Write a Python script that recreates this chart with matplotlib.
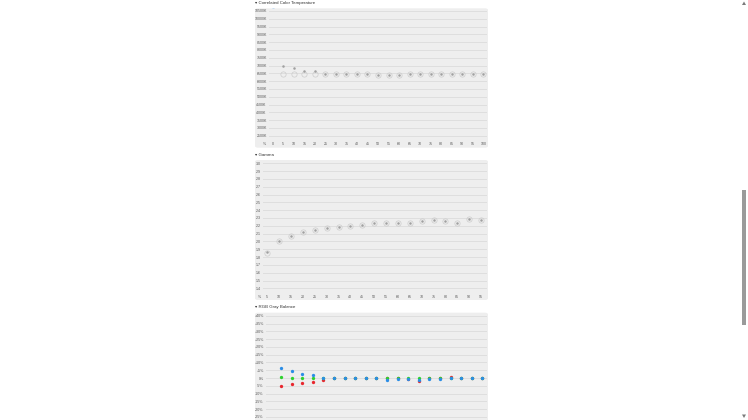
import matplotlib
matplotlib.use("Agg")
import matplotlib.pyplot as plt
from matplotlib.patches import FancyBboxPatch, Rectangle, Polygon

plt.rcParams['font.family'] = ['Liberation Sans', 'DejaVu Sans']

W, H = 748, 420

# ---------------- data ----------------
cct_levels = [5, 10, 15, 20, 25, 30, 35, 40, 45, 50, 55, 60, 65, 70, 75, 80, 85, 90, 95, 100]
cct_measured = [7000, 6825, 6675, 6635, 6485, 6460, 6460, 6460, 6440, 6420, 6400, 6420,
                6460, 6460, 6480, 6460, 6440, 6460, 6460, 6460]
cct_circle = [6460, 6470, 6470, 6470, 6470, 6460, 6460, 6460, 6450, 6420, 6410, 6420,
              6460, 6460, 6470, 6460, 6450, 6460, 6460, 6460]
cct_black_level = [0]
cct_black_value = [10800]
cct_ticks = list(range(10500, 2499, -500))
cct_xticks = list(range(0, 101, 5))

gamma_levels = [5, 10, 15, 20, 25, 30, 35, 40, 45, 50, 55, 60, 65, 70, 75, 80, 85, 90, 95]
gamma_values = [1.87, 2.00, 2.07, 2.12, 2.15, 2.17, 2.19, 2.20, 2.21, 2.24, 2.23, 2.23,
                2.24, 2.26, 2.27, 2.26, 2.24, 2.29, 2.27]
gamma_circle = [1.85, 2.00, 2.07, 2.12, 2.15, 2.17, 2.19, 2.20, 2.21, 2.24, 2.23, 2.23,
                2.24, 2.26, 2.27, 2.26, 2.24, 2.29, 2.27]
gamma_ticks = [3.0, 2.9, 2.8, 2.7, 2.6, 2.5, 2.4, 2.3, 2.2, 2.1, 2.0, 1.9, 1.8, 1.7, 1.6, 1.5, 1.4]

rgb_levels = [5, 10, 15, 20, 25, 30, 35, 40, 45, 50, 55, 60, 65, 70, 75, 80, 85, 90, 95, 100]
rgb_red = [-5.1, -3.9, -3.2, -2.4, -1.1, -0.2, -0.2, 0.0, -0.2, 0.2, 0.0, 0.2,
           -0.4, -1.7, -0.2, -0.2, 0.9, 0.0, 0.2, -0.2]
rgb_green = [0.4, 0.2, 0.2, 0.2, 0.0, -0.1, -0.1, 0.0, -0.1, 0.0, -0.2, 0.0,
             0.0, -0.2, 0.0, 0.0, 0.0, 0.0, 0.0, 0.0]
rgb_blue = [6.2, 4.3, 2.4, 1.7, 0.0, -0.2, -0.2, 0.0, -0.2, -0.2, -1.3, -0.8,
            -0.8, -1.0, -0.4, -0.4, -0.2, -0.2, -0.2, -0.2]
rgb_ticks = [40, 35, 30, 25, 20, 15, 10, 5, 0, -5, -10, -15, -20, -25]

# ---------------- helpers ----------------
fig = plt.figure(figsize=(W / 100, H / 100), dpi=100)
fig.patch.set_facecolor('white')

BG = '#eeeeee'
GRID = '#dedede'
TXT = '#555555'
FS_TICK = 2.6
FS_TITLE = 3.2


def fx(x):
    return x / W


def fy(y):
    return 1 - y / H


def panel(x0, y0, x1, y1):
    p = FancyBboxPatch((fx(x0), fy(y1)), fx(x1) - fx(x0), fy(y0) - fy(y1),
                       boxstyle="round,pad=0,rounding_size=0.004",
                       transform=fig.transFigure, facecolor=BG, edgecolor='none',
                       zorder=0)
    fig.add_artist(p)


def make_axes(x0, y0, x1, y1):
    ax = fig.add_axes([fx(x0), fy(y1), fx(x1) - fx(x0), fy(y0) - fy(y1)])
    ax.set_facecolor('none')
    for s in ax.spines.values():
        s.set_visible(False)
    ax.tick_params(length=0, labelsize=FS_TICK, labelcolor=TXT, pad=1.6)
    ax.grid(axis='y', color=GRID, linewidth=0.7)
    ax.set_axisbelow(True)
    return ax


def title(y, s):
    fig.text(fx(255), fy(y), "\u25be " + s, fontsize=FS_TITLE, color='#333333',
             ha='left', va='center', family=['Liberation Sans', 'DejaVu Sans'])


# ---------------- CCT ----------------
panel(255, 8.3, 488, 147.7)
title(3, "Correlated Color Temperature")
ax1 = make_axes(269, 8.3, 487, 139)
ax1.set_xlim(-1.76, 101.76)
ax1.set_ylim(2288, 10673)
ax1.set_yticks(cct_ticks)
ax1.set_yticklabels([f"{v}K" for v in cct_ticks])
ax1.set_xticks(cct_xticks)
ax1.set_xticklabels([str(v) for v in cct_xticks])
ax1.tick_params(axis='x', pad=2.2)
ax1.plot(cct_levels, cct_circle, 'o', ms=3.8, mfc='none', mec='#cccccc', mew=0.5)
ax1.plot(cct_levels, cct_measured, 'o', ms=1.8, mfc='#a0a0a0', mec='none')
ax1.plot(cct_black_level, cct_black_value, 'o', ms=3.0, mfc='#a9cdf0', mec='none')
ax1.text(-3.66, -0.025, "%", transform=ax1.get_xaxis_transform(), fontsize=FS_TICK,
         color=TXT, ha='center', va='top')

# ---------------- Gamma ----------------
panel(255, 160, 488, 300)
title(155, "Gamma")
ax2 = make_axes(262.7, 161, 487, 292)
ax2.set_xlim(3.06, 97.5)
ax2.set_ylim(1.353, 3.029)
ax2.set_yticks(gamma_ticks)
ax2.set_yticklabels([f"{v:.1f}" for v in gamma_ticks])
ax2.set_xticks(gamma_levels)
ax2.set_xticklabels([str(v) for v in gamma_levels])
ax2.tick_params(axis='x', pad=2.0)
ax2.plot(gamma_levels, gamma_circle, 'o', ms=3.8, mfc='none', mec='#cccccc', mew=0.5)
ax2.plot(gamma_levels, gamma_values, 'o', ms=1.8, mfc='#a0a0a0', mec='none')
ax2.text(1.63, -0.02, "%", transform=ax2.get_xaxis_transform(), fontsize=FS_TICK,
         color=TXT, ha='center', va='top')

# ---------------- RGB Gray Balance ----------------
panel(255, 312.7, 488, 470)
title(307, "RGB Gray Balance")
ax3 = make_axes(266, 313, 487, 443)
ax3.set_xlim(-2.08, 102.2)
ax3.set_ylim(-41.9, 41.9)
ax3.set_yticks(rgb_ticks)
ax3.set_yticklabels([("+" if v > 0 else "") + f"{v}%" for v in rgb_ticks])
ax3.set_xticks([])
ax3.plot(rgb_levels, rgb_red, 'o', ms=2.4, mfc='#e8262d', mec='none')
ax3.plot(rgb_levels, rgb_green, 'o', ms=2.4, mfc='#2fd12f', mec='none')
ax3.plot(rgb_levels, rgb_blue, 'o', ms=2.4, mfc='#2b8de6', mec='none')

# ---------------- scrollbar ----------------
fig.add_artist(Rectangle((fx(742.3), fy(325)), fx(745.7) - fx(742.3), fy(190) - fy(325),
                         transform=fig.transFigure, facecolor='#9a9a9a', edgecolor='none'))
fig.add_artist(Polygon([(fx(742), fy(5)), (fx(746), fy(5)), (fx(744), fy(1.5))],
                       closed=True, transform=fig.transFigure, facecolor='#7a7a7a',
                       edgecolor='none'))
fig.add_artist(Polygon([(fx(742), fy(414.5)), (fx(746), fy(414.5)), (fx(744), fy(418))],
                       closed=True, transform=fig.transFigure, facecolor='#7a7a7a',
                       edgecolor='none'))

fig.savefig("out.png", dpi=100, facecolor='white')
